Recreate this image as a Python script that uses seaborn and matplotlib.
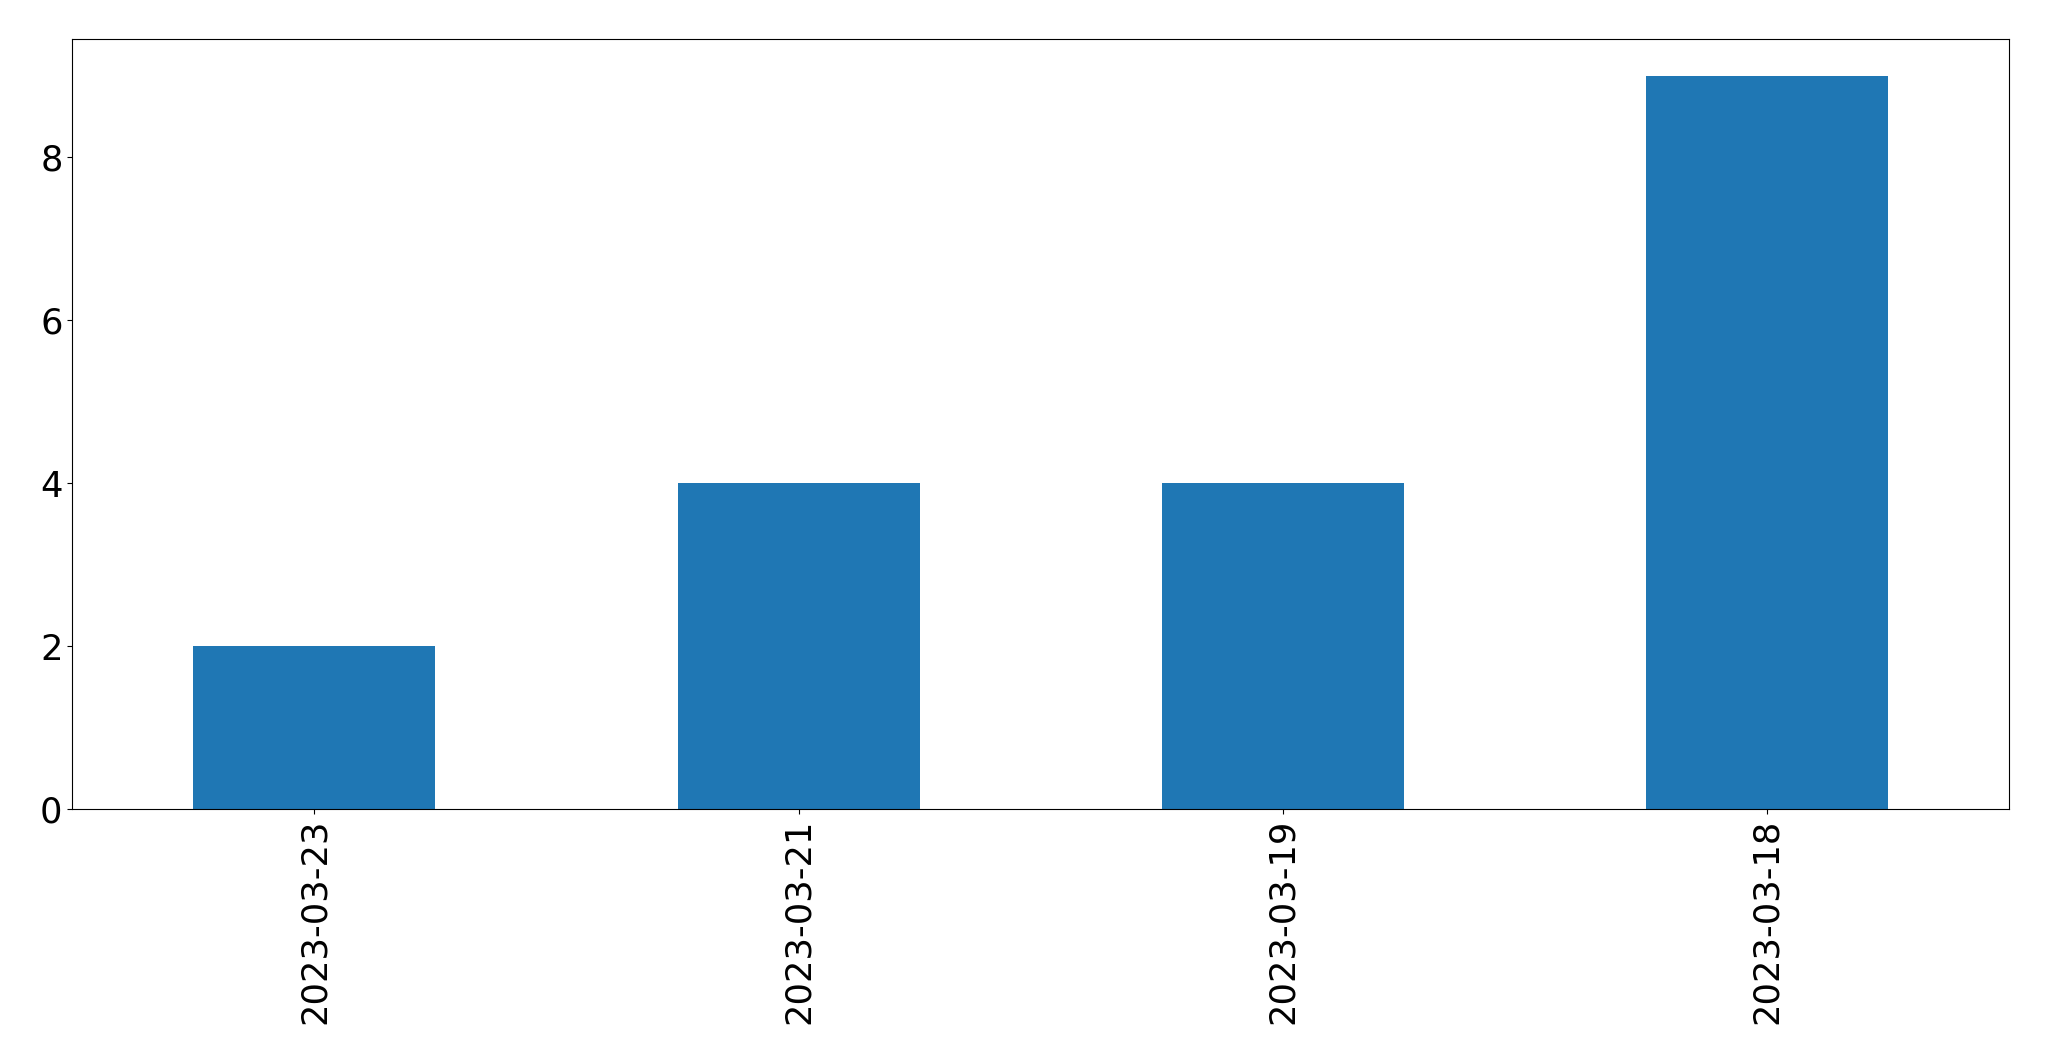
import matplotlib
matplotlib.use("Agg")
import matplotlib.pyplot as plt
import seaborn as sns
import pandas as pd

dates = ["2023-03-23", "2023-03-21", "2023-03-19", "2023-03-18"]
counts = [2, 4, 4, 9]

df = pd.DataFrame({"date": dates, "count": counts})

fig = plt.figure(figsize=(20.49, 10.61), dpi=100)
ax = fig.add_axes([72.3 / 2049, 1 - 809 / 1061, (2009.3 - 72.3) / 2049, (809 - 39.3) / 1061])
sns.barplot(data=df, x="date", y="count", order=dates, color="#1f77b4",
            saturation=1, width=0.5, ax=ax, errorbar=None)
ax.set_xlim(-0.5, 3.5)
ax.set_ylim(0, 9 * 1.05)
ax.set_yticks([0, 2, 4, 6, 8])
ax.set_xlabel("")
ax.set_ylabel("")
ax.tick_params(axis="both", labelsize=25.4, colors="black")
ax.tick_params(axis="x", labelrotation=90)
for s in ax.spines.values():
    s.set_visible(True)
    s.set_color("black")
    s.set_linewidth(0.8)
fig.savefig("out.png", dpi=100)
